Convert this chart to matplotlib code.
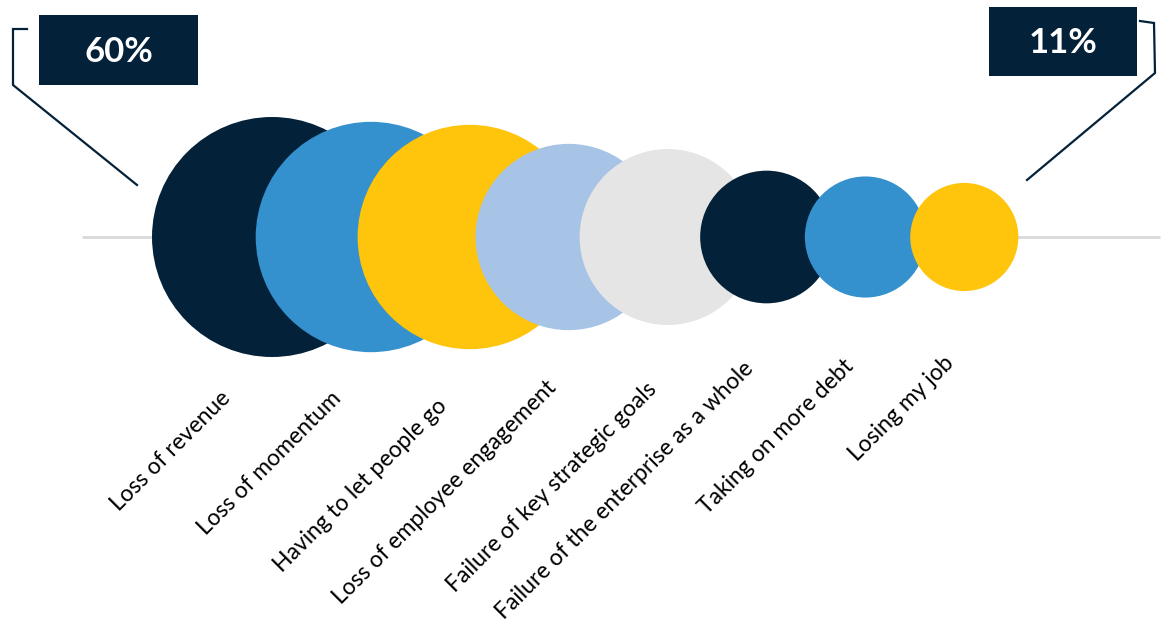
import matplotlib
matplotlib.use('Agg')
import matplotlib.pyplot as plt
from matplotlib.patches import Circle, Rectangle

# ---------------- data ----------------
categories = ["Loss of revenue", "Loss of momentum", "Having to let people go",
              "Loss of employee engagement", "Failure of key strategic goals",
              "Failure of the enterprise as a whole", "Taking on more debt",
              "Losing my job"]
values = [60, 55, 52, 35, 31, 17, 14, 11]
colors = ["#03223A", "#3590CE", "#FFC40C", "#A7C3E5", "#E5E5E5",
          "#03223A", "#3590CE", "#FFC40C"]
callout_labels = ["60%", "11%"]

# ---------------- layout ----------------
W, H = 1166, 643
PX = 98.9            # pixels per category step
X0, Y0 = 272, 237    # pixel position of first category / baseline
NAVY = "#03223A"

fig = plt.figure(figsize=(W / 100, H / 100), dpi=100)
ax = fig.add_axes([0, 0, 1, 1])
ax.set_xlim(-X0 / PX, (W - X0) / PX)
ax.set_ylim(-(H - Y0) / PX, Y0 / PX)
ax.axis('off')


def px(x, y):
    return ((x - X0) / PX, (Y0 - y) / PX)


# baseline
xa, _ = px(82, 0)
xb, _ = px(1160, 0)
ax.plot([xa, xb], [0, 0], color="#D9D9D9", lw=2, zorder=0, solid_capstyle='butt')

# bubbles
R_MAX = 120 / PX
vmax = max(values)
for i, (v, c) in enumerate(zip(values, colors)):
    r = R_MAX * (v / vmax) ** 0.47
    ax.add_patch(Circle((i, 0), r, facecolor=c, edgecolor='none', zorder=i + 1))

# category labels (anchor = upper-right end of rotated text, in pixels)
label_anchor = [(220, 387), (330, 388), (436, 395), (546, 377),
                (646, 378), (743, 358), (843, 355), (943, 352)]
for cat, (lx, ly) in zip(categories, label_anchor):
    ax.text(*px(lx, ly), cat, rotation=45, ha='right', va='top',
            rotation_mode='anchor', fontsize=16.5, family='Lato', color='black')

# callouts
boxes = [(39, 15, 159, 70), (989, 7, 148, 69)]
for (bx, by, bw, bh), lab in zip(boxes, callout_labels):
    x0, y0 = px(bx, by + bh)
    ax.add_patch(Rectangle((x0, y0), bw / PX, bh / PX, facecolor=NAVY,
                           edgecolor='none', zorder=20))
    cx, cy = px(bx + bw / 2, by + bh / 2 + 2)
    ax.text(cx, cy, lab, color='white', fontsize=25, fontweight='bold',
            family='Lato', ha='center', va='center', zorder=21)

left_line = [(27, 29), (13, 29), (13, 85), (137, 185)]
right_line = [(1140, 21), (1154, 23), (1155, 73), (1027, 180)]
for pts in (left_line, right_line):
    xs, ys = zip(*[px(x, y) for x, y in pts])
    ax.plot(xs, ys, color=NAVY, lw=1.6, zorder=19, solid_joinstyle='miter')

fig.savefig("out.png", dpi=100)
